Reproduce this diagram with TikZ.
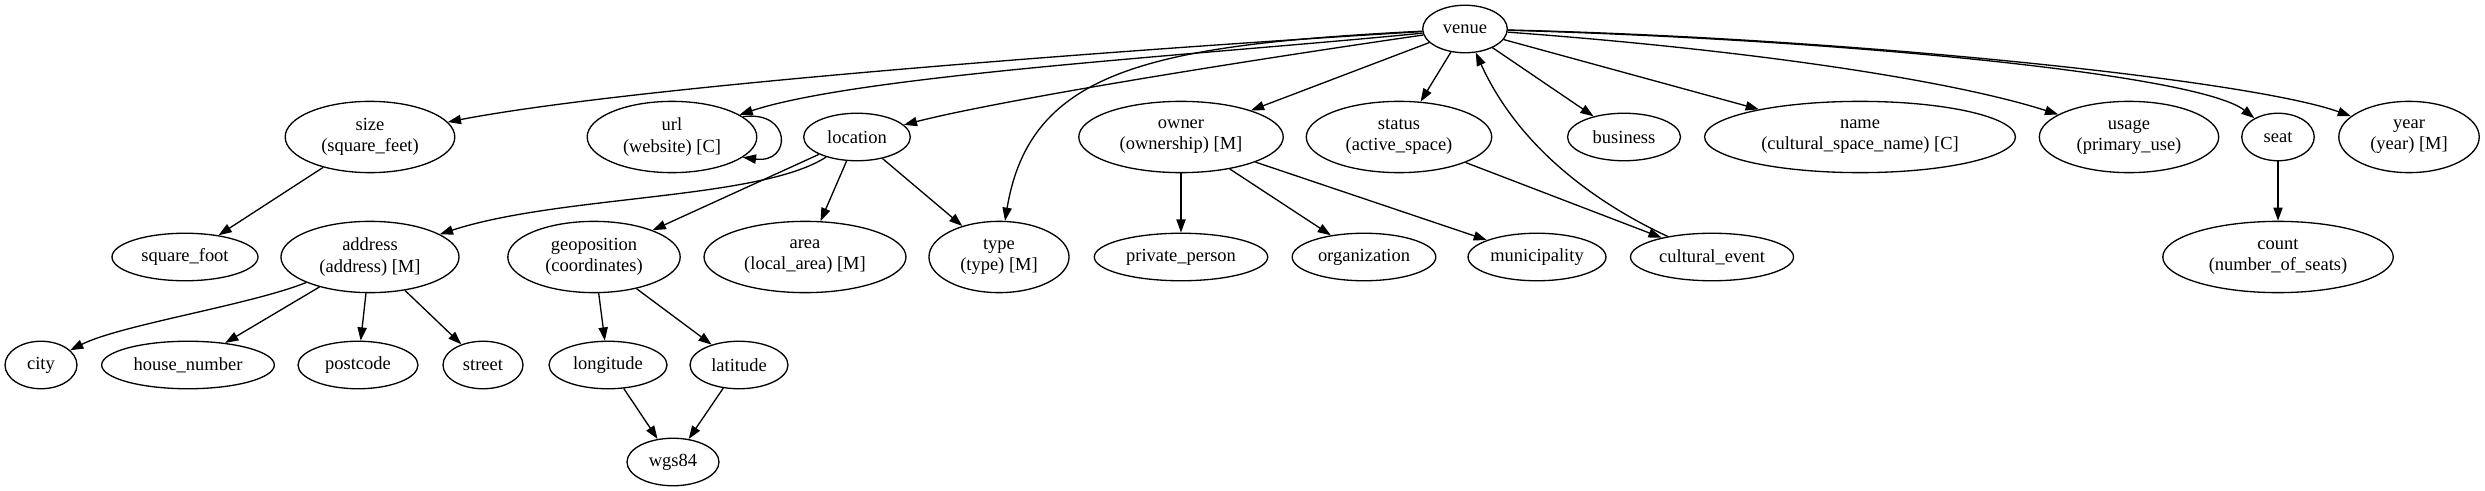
\documentclass[tikz,border=0pt]{standalone}
\usepackage{fontspec}
\setmainfont{Liberation Serif}
\usetikzlibrary{shapes.geometric,arrows.meta}
\tikzset{
  gn/.style={draw, ellipse, inner sep=0pt, line width=1pt, align=center,
    font=\fontsize{14}{16}\selectfont},
  one/.style={gn, minimum height=36pt},
  two/.style={gn, minimum height=54pt},
  edge/.style={draw, line width=1pt, -{Triangle[length=10pt,width=7pt]}}
}
\begin{document}
\begin{tikzpicture}[x=0.7576pt,y=-0.7576pt]
\useasboundingbox (0,0) rectangle (2485,491);
\fill[white] (0,0) rectangle (2485,491);
% row 0
\node[one, minimum width=64.1pt] (venue) at (1465,29) {venue};
% row 1
\node[two, minimum width=128.5pt] (size) at (370,137) {size\\(square\_feet)};
\node[two, minimum width=128.5pt] (url) at (672,137) {url\\(website) [C]};
\node[one, minimum width=80.8pt] (location) at (857,137) {location};
\node[two, minimum width=154.9pt] (owner) at (1181,137) {owner\\(ownership) [M]};
\node[two, minimum width=140.5pt] (status) at (1399,137) {status\\(active\_space)};
\node[one, minimum width=85.6pt] (business) at (1624,137) {business};
\node[two, minimum width=235.5pt] (name) at (1860,137) {name\\(cultural\_space\_name) [C]};
\node[two, minimum width=135.9pt] (usage) at (2129,137) {usage\\(primary\_use)};
\node[one, minimum width=54.9pt] (seat) at (2278,137) {seat};
\node[two, minimum width=106.4pt] (year) at (2409,137) {year\\(year) [M]};
% row 2
\node[one, minimum width=110.6pt] (squarefoot) at (185,257) {square\_foot};
\node[two, minimum width=134.9pt] (address) at (370,257) {address\\(address) [M]};
\node[two, minimum width=130.6pt] (geoposition) at (594,257) {geoposition\\(coordinates)};
\node[two, minimum width=153pt] (area) at (805,257) {area\\(local\_area) [M]};
\node[two, minimum width=106.1pt] (type) at (999,257) {type\\(type) [M]};
\node[one, minimum width=131.4pt] (private) at (1181,257) {private\_person};
\node[one, minimum width=108.8pt] (organization) at (1364,257) {organization};
\node[one, minimum width=104.5pt] (municipality) at (1537,257) {municipality};
\node[one, minimum width=123.5pt] (cultural) at (1712,257) {cultural\_event};
\node[two, minimum width=174.6pt] (count) at (2278,257) {count\\(number\_of\_seats)};
% row 3
\node[one, minimum width=54.5pt] (city) at (41,365) {city};
\node[one, minimum width=130.8pt] (housenumber) at (188,365) {house\_number};
\node[one, minimum width=90.9pt] (postcode) at (358,365) {postcode};
\node[one, minimum width=60.6pt] (street) at (483,365) {street};
\node[one, minimum width=89.4pt] (longitude) at (608,365) {longitude};
\node[one, minimum width=74.2pt] (latitude) at (739,365) {latitude};
% row 4
\node[one, minimum width=69.7pt] (wgs) at (673,462) {wgs84};

% edges from venue
\draw[edge] (venue) .. controls (1150,48) and (640,85) .. (size);
\draw[edge] (venue) .. controls (1200,55) and (860,75) .. (url);
\draw[edge] (venue) .. controls (1250,60) and (1000,100) .. (location);
\draw[edge] (venue) .. controls (1150,45) and (1030,70) .. (type);
\draw[edge] (venue) -- (owner);
\draw[edge] (venue) -- (status);
\draw[edge] (venue) -- (business);
\draw[edge] (venue) -- (name);
\draw[edge] (venue) .. controls (1750,50) and (1950,80) .. (usage);
\draw[edge] (venue) .. controls (1850,40) and (2200,75) .. (seat);
\draw[edge] (venue) .. controls (1850,38) and (2250,80) .. (year);
% self loop
\draw[edge] (url.16) .. controls (792,110) and (792,164) .. (url.-16);
% others
\draw[edge] (size) -- (squarefoot);
\draw[edge] (location) .. controls (760,200) and (560,195) .. (address);
\draw[edge] (location) -- (geoposition);
\draw[edge] (location) -- (area);
\draw[edge] (location) -- (type);
\draw[edge] (address) .. controls (250,305) and (120,325) .. (city);
\draw[edge] (address) -- (housenumber);
\draw[edge] (address) -- (postcode);
\draw[edge] (address) -- (street);
\draw[edge] (geoposition) -- (longitude);
\draw[edge] (geoposition) -- (latitude);
\draw[edge] (longitude) -- (wgs);
\draw[edge] (latitude) -- (wgs);
\draw[edge] (owner) -- (private);
\draw[edge] (owner) -- (organization);
\draw[edge] (owner) -- (municipality);
\draw[edge] (status) -- (cultural);
\draw[edge] (cultural) .. controls (1600,205) and (1520,150) .. (venue);
\draw[edge] (seat) -- (count);
\end{tikzpicture}
\end{document}
